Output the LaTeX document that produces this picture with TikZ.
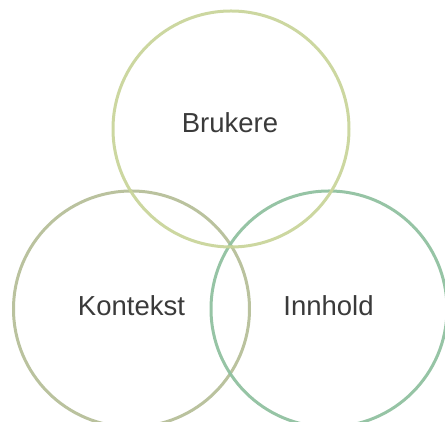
\documentclass[tikz,border=0pt]{standalone}
\usepackage{fontspec}
\setmainfont{Liberation Sans}
\definecolor{ctop}{HTML}{C9D59B}
\definecolor{cleft}{HTML}{B6BF99}
\definecolor{cright}{HTML}{90C1A0}
\definecolor{ctext}{HTML}{3A3A3A}
\begin{document}
\begin{tikzpicture}[x=1pt,y=1pt,
  ring/.style={line width=3pt, opacity=0.95},
  lbl/.style={text=ctext, font=\fontsize{27.5}{31}\selectfont, anchor=base, inner sep=0pt}]
\useasboundingbox (0,0) rectangle (445,422);
\draw[ring, draw=cleft] (131.5,113) circle (118);
\draw[ring, draw=cright] (329,113) circle (118);
\draw[ring, draw=ctop] (231,293) circle (118);
\node[lbl] (b) at (230,289) {Brukere};
\node[lbl] (k) at (131.5,106) {Kontekst};
\node[lbl] (i) at (328.5,106) {Innhold};
\end{tikzpicture}
\end{document}
